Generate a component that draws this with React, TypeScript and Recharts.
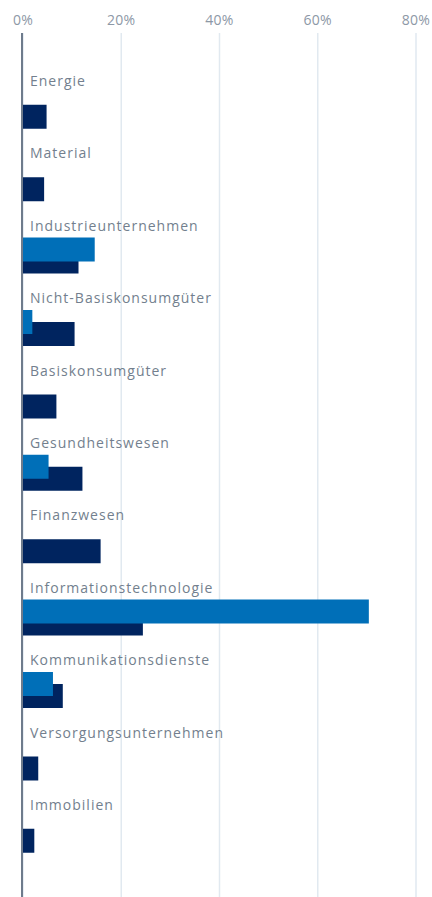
import React from 'react';
import { BarChart, Bar, XAxis, YAxis, CartesianGrid } from 'recharts';

// Sector weights in % (two portfolios)
const sectors = [
  'Energie',
  'Material',
  'Industrieunternehmen',
  'Nicht-Basiskonsumgüter',
  'Basiskonsumgüter',
  'Gesundheitswesen',
  'Finanzwesen',
  'Informationstechnologie',
  'Kommunikationsdienste',
  'Versorgungsunternehmen',
  'Immobilien',
];
const blueValues = [null, null, 14.6, 1.9, null, 5.2, null, 70.4, 6.1, null, null];
const navyValues = [4.8, 4.3, 11.3, 10.5, 6.8, 12.1, 15.8, 24.4, 8.1, 3.1, 2.3];
const xTicks = [0, 20, 40, 60, 80];

const FONT = '"Open Sans", sans-serif';

if (typeof document !== 'undefined') {
  document.body.style.margin = '0';
}

const chartData = sectors.map((name, i) => ({
  name,
  blue: blueValues[i],
  navy: navyValues[i],
}));

// label sits above the bars, at the top of each band
const SectorTick = (props: any) => {
  const { y, payload } = props;
  return (
    <text
      x={30}
      y={y - 36}
      dy={5}
      textAnchor="start"
      fill="#737f8e"
      fontSize={14}
      fontFamily={FONT}
      letterSpacing={1}
    >
      {payload.value}
    </text>
  );
};

const App: React.FC = () => {
  return (
    <div style={{ width: 432, height: 897 }}>
      <BarChart
        width={432}
        height={897}
        data={chartData}
        layout="vertical"
        margin={{ top: 0, right: 16, bottom: 0, left: 21 }}
      >
        <CartesianGrid horizontal={false} stroke="#e1e9f0" strokeWidth={1.5} yAxisId="navy" />
        <XAxis
          type="number"
          orientation="top"
          domain={[0, 80]}
          ticks={xTicks}
          tickFormatter={(v) => `${v}%`}
          axisLine={false}
          tickLine={false}
          height={33}
          tick={{ fill: '#8d98a6', fontSize: 14, fontFamily: FONT, letterSpacing: 0.3 }}
          interval={0}
        />
        <YAxis
          yAxisId="blue"
          type="category"
          dataKey="name"
          width={1}
          padding={{ top: 35.8, bottom: 31.8 }}
          axisLine={false}
          tickLine={false}
          tick={false}
        />
        <YAxis
          yAxisId="navy"
          type="category"
          dataKey="name"
          width={1}
          padding={{ top: 47.8, bottom: 19.8 }}
          axisLine={{ stroke: '#6e7b8c', strokeWidth: 2 }}
          tickLine={false}
          tick={SectorTick}
          interval={0}
        />
        <Bar dataKey="navy" yAxisId="navy" fill="#00245f" barSize={24} isAnimationActive={false} />
        <Bar dataKey="blue" yAxisId="blue" fill="#006fb8" barSize={24} isAnimationActive={false} />
      </BarChart>
    </div>
  );
};

export default App;
